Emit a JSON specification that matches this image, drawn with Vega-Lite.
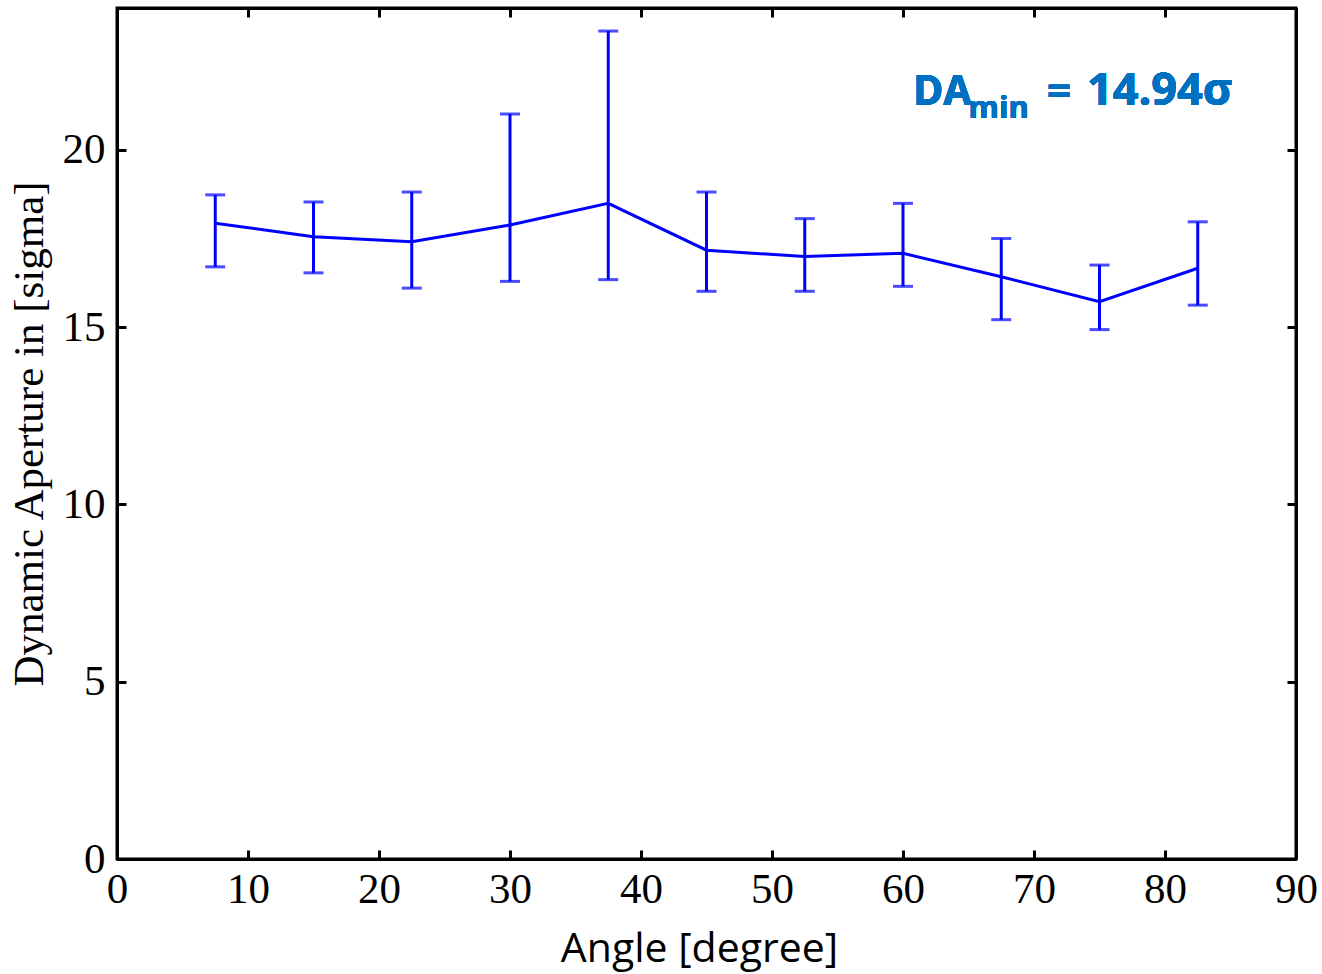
{
  "$schema": "https://vega.github.io/schema/vega-lite/v6.json",
  "width": 1179,
  "height": 851,
  "autosize": "none",
  "padding": {"left": 117, "top": 8, "right": 26, "bottom": 115},
  "background": "white",
  "config": {
    "view": {"stroke": "black", "strokeWidth": 3},
    "axis": {"grid": false, "domainColor": "black", "domainWidth": 3, "tickColor": "black", "tickWidth": 3, "tickSize": -9, "labelColor": "black", "titleColor": "black", "labelFlush": false}
  },
  "data": {
    "values": [
      {"angle": 7.5, "da": 17.93, "lo": 16.70, "hi": 18.73},
      {"angle": 15, "da": 17.55, "lo": 16.53, "hi": 18.53},
      {"angle": 22.5, "da": 17.41, "lo": 16.10, "hi": 18.81},
      {"angle": 30, "da": 17.88, "lo": 16.29, "hi": 21.01},
      {"angle": 37.5, "da": 18.49, "lo": 16.34, "hi": 23.35},
      {"angle": 45, "da": 17.17, "lo": 16.01, "hi": 18.81},
      {"angle": 52.5, "da": 16.99, "lo": 16.01, "hi": 18.06},
      {"angle": 60, "da": 17.08, "lo": 16.15, "hi": 18.49},
      {"angle": 67.5, "da": 16.42, "lo": 15.21, "hi": 17.50},
      {"angle": 75, "da": 15.72, "lo": 14.93, "hi": 16.75},
      {"angle": 82.5, "da": 16.66, "lo": 15.62, "hi": 17.97}
    ]
  },
  "resolve": {"axis": {"x": "independent", "y": "independent"}},
  "layer": [
    {
      "mark": {"type": "line", "color": "#0000FF", "strokeWidth": 3},
      "encoding": {
        "x": {"field": "angle", "type": "quantitative", "scale": {"domain": [0, 90], "nice": false},
          "axis": {"orient": "bottom", "values": [0,10,20,30,40,50,60,70,80,90], "labelFont": "Liberation Serif", "labelFontSize": 43, "labelPadding": 18, "labelFlush": false, "title": "Angle [degree]", "titleFont": "Open Sans", "titleFontSize": 41, "titleFontWeight": "normal", "titlePadding": 18, "titleX": 582}},
        "y": {"field": "da", "type": "quantitative", "scale": {"domain": [0, 24], "nice": false},
          "axis": {"orient": "left", "values": [0,5,10,15,20], "labelFont": "Liberation Serif", "labelFontSize": 43, "labelPadding": 21, "labelFlush": false, "title": "Dynamic Aperture in [sigma]", "titleFont": "Liberation Serif", "titleFontSize": 43, "titleFontWeight": "normal", "titlePadding": 11}}
      }
    },
    {
      "mark": {"type": "errorbar", "color": "#0000FF", "thickness": 3, "ticks": {"size": 20, "thickness": 3, "color": "#0000FF"}},
      "encoding": {
        "x": {"field": "angle", "type": "quantitative",
          "axis": {"orient": "top", "values": [0,10,20,30,40,50,60,70,80,90], "labels": false, "title": null}},
        "y": {"field": "lo", "type": "quantitative",
          "axis": {"orient": "right", "values": [0,5,10,15,20], "labels": false, "title": null}},
        "y2": {"field": "hi"}
      }
    },
    {
      "mark": {"type": "text", "font": "Open Sans", "fontWeight": "bold", "fontSize": 41, "color": "#0070C0", "align": "left", "baseline": "alphabetic", "text": "DA"},
      "encoding": {
        "x": {"datum": 60.76, "type": "quantitative", "axis": null},
        "y": {"datum": 21.26, "type": "quantitative", "axis": null}
      }
    },
    {
      "mark": {"type": "text", "font": "Open Sans", "fontWeight": "bold", "fontSize": 31, "color": "#0070C0", "align": "left", "baseline": "alphabetic", "text": "min"},
      "encoding": {
        "x": {"datum": 65.0, "type": "quantitative", "axis": null},
        "y": {"datum": 20.9, "type": "quantitative", "axis": null}
      }
    },
    {
      "mark": {"type": "text", "font": "Open Sans", "fontWeight": "bold", "fontSize": 42, "color": "#0070C0", "align": "left", "baseline": "alphabetic", "text": "="},
      "encoding": {
        "x": {"datum": 70.99, "type": "quantitative", "axis": null},
        "y": {"datum": 21.26, "type": "quantitative", "axis": null}
      }
    },
    {
      "mark": {"type": "text", "font": "Open Sans", "fontWeight": "bold", "fontSize": 45, "color": "#0070C0", "align": "left", "baseline": "alphabetic", "text": "14.94σ"},
      "encoding": {
        "x": {"datum": 74.05, "type": "quantitative", "axis": null},
        "y": {"datum": 21.26, "type": "quantitative", "axis": null}
      }
    }
  ]
}
